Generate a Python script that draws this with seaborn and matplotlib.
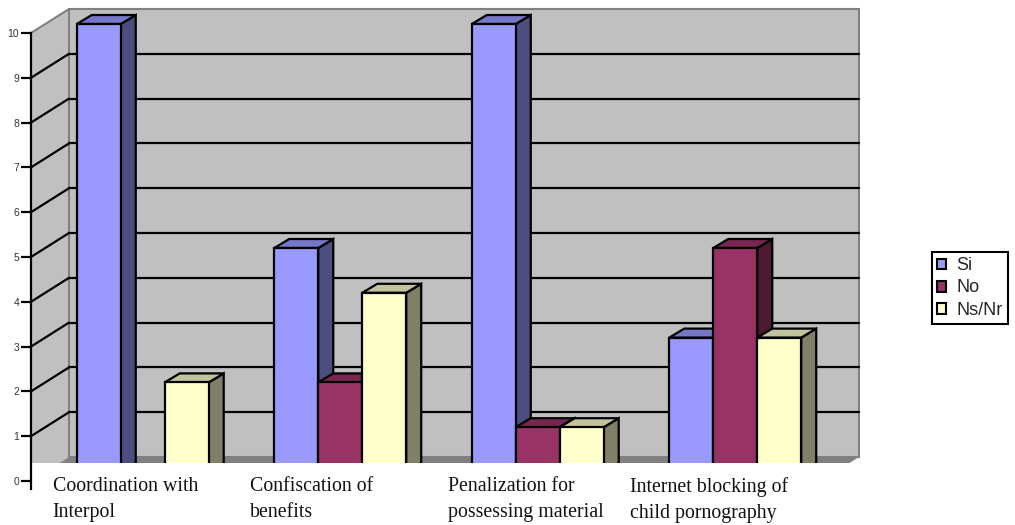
import numpy as np
import pandas as pd
import matplotlib
matplotlib.use("Agg")
import matplotlib.pyplot as plt
import seaborn as sns
from matplotlib.patches import Polygon, Rectangle, Patch
from matplotlib.lines import Line2D
from matplotlib.transforms import blended_transform_factory

# ---- data -------------------------------------------------------------
categories = [
    "Coordination with\nInterpol",
    "Confiscation of\nbenefits",
    "Penalization for\npossessing material",
    "Internet blocking of\nchild pornography",
]
responses = ["Si", "No", "Ns/Nr"]
si_counts = [10, 5, 10, 3]
no_counts = [0, 2, 1, 5]
nsnr_counts = [2, 4, 1, 3]
y_ticks = list(range(0, 11))

# ---- styling ----------------------------------------------------------
front_colors = {"Si": "#9999FF", "No": "#993366", "Ns/Nr": "#FFFFCC"}
side_colors = {"Si": "#4D4D80", "No": "#4D1A33", "Ns/Nr": "#808066"}
top_colors = {"Si": "#7777C8", "No": "#76264F", "Ns/Nr": "#C2C29C"}
WALL_COLOR = "#C0C0C0"
FLOOR_COLOR = "#808080"
EDGE_GREY = "#808080"
LW = 1.6

sns.set_theme(style="white")
plt.rcParams["font.family"] = ["Liberation Sans", "DejaVu Sans"]

W_PX, H_PX, DPI = 1015, 525, 100
fig = plt.figure(figsize=(W_PX / DPI, H_PX / DPI), dpi=DPI)
fig.patch.set_facecolor("white")

# front plane of the 3-D box, in pixels
ax_left, ax_bottom, ax_w, ax_h = 31, 36, 790, 456
ax = fig.add_axes([ax_left / W_PX, ax_bottom / H_PX, ax_w / W_PX, ax_h / H_PX])
ax.set_facecolor("none")

df = pd.DataFrame({
    "category": categories * len(responses),
    "response": np.repeat(responses, len(categories)),
    "count": si_counts + no_counts + nsnr_counts,
})

sns.barplot(
    data=df, x="category", y="count", hue="response",
    order=categories, hue_order=responses, palette=front_colors,
    width=0.668, gap=0, saturation=1, edgecolor="black", linewidth=LW,
    errorbar=None, legend=False, ax=ax,
)

x_lo, x_hi = -0.5, len(categories) - 0.5
y_lo, y_hi = -8 / 44.8, 10
ax.set_xlim(x_lo, x_hi)
ax.set_ylim(y_lo, y_hi)

px_x = ax_w / (x_hi - x_lo)
px_y = ax_h / (y_hi - y_lo)


def depth(px, py):
    """Pixel depth offset converted to data units."""
    return px / px_x, py / px_y


WALL = depth(38, 24)
BAR_F = depth(13, 9)
BAR_B = depth(28, 18)
ymax = y_ticks[-1]

# side wall, back wall, floor
ax.add_patch(Polygon([(x_lo, 0), (x_lo + WALL[0], WALL[1]),
                      (x_lo + WALL[0], ymax + WALL[1]), (x_lo, ymax)],
                     closed=True, facecolor=WALL_COLOR, edgecolor="none",
                     zorder=0, clip_on=False))
ax.add_patch(Rectangle((x_lo + WALL[0], WALL[1]), x_hi - x_lo, ymax,
                       facecolor=WALL_COLOR, edgecolor=EDGE_GREY, linewidth=1.5,
                       zorder=0.1, clip_on=False))
ax.add_patch(Polygon([(x_lo, 0), (x_hi, 0), (x_hi + WALL[0], WALL[1]),
                      (x_lo + WALL[0], WALL[1])],
                     closed=True, facecolor=FLOOR_COLOR, edgecolor="none",
                     zorder=0.2, clip_on=False))

# gridlines on the back and side walls
for v in y_ticks[1:-1]:
    ax.add_line(Line2D([x_lo + WALL[0], x_hi + WALL[0]], [v + WALL[1]] * 2,
                       color="black", linewidth=LW, zorder=0.5, clip_on=False))
    ax.add_line(Line2D([x_lo, x_lo + WALL[0]], [v, v + WALL[1]],
                       color="black", linewidth=LW, zorder=0.5, clip_on=False))
ax.add_line(Line2D([x_lo, x_lo + WALL[0]], [ymax, ymax + WALL[1]],
                   color=EDGE_GREY, linewidth=1.5, zorder=0.5, clip_on=False))

# extrude every bar into a box, left to right
bars = []
for resp, cont in zip(responses, ax.containers):
    for bar in cont:
        bars.append((bar.get_x(), bar, resp))
bars.sort(key=lambda t: t[0])

for k, (_, bar, resp) in enumerate(bars):
    z = 2 + 0.01 * k
    h = bar.get_height()
    if h <= 0:
        bar.set_visible(False)
        continue
    x0 = bar.get_x()
    x1 = x0 + bar.get_width()
    bar.set_x(x0 + BAR_F[0])
    bar.set_y(BAR_F[1])
    bar.set_zorder(z + 0.002)
    bar.set_clip_on(False)
    side = [(x1 + BAR_F[0], BAR_F[1]), (x1 + BAR_F[0], h + BAR_F[1]),
            (x1 + BAR_B[0], h + BAR_B[1]), (x1 + BAR_B[0], BAR_B[1])]
    top = [(x0 + BAR_F[0], h + BAR_F[1]), (x1 + BAR_F[0], h + BAR_F[1]),
           (x1 + BAR_B[0], h + BAR_B[1]), (x0 + BAR_B[0], h + BAR_B[1])]
    ax.add_patch(Polygon(side, closed=True, facecolor=side_colors[resp],
                         edgecolor="black", linewidth=LW, joinstyle="miter",
                         zorder=z, clip_on=False))
    ax.add_patch(Polygon(top, closed=True, facecolor=top_colors[resp],
                         edgecolor="black", linewidth=LW, joinstyle="miter",
                         zorder=z + 0.001, clip_on=False))

# white band under the floor holding the category labels
cover_top = depth(0, 18)[1]
ax.add_patch(Rectangle((x_lo, y_lo - 3), (x_hi - x_lo) + WALL[0] + 0.05,
                       cover_top - (y_lo - 3), facecolor="white",
                       edgecolor="none", zorder=10, clip_on=False))

# value axis
for name in ["top", "right", "bottom"]:
    ax.spines[name].set_visible(False)
ax.spines["left"].set_color("black")
ax.spines["left"].set_linewidth(LW)
ax.spines["left"].set_zorder(20)
ax.yaxis.set_zorder(20)
ax.set_yticks(y_ticks)
ax.set_yticklabels([str(t) for t in y_ticks])
ax.tick_params(axis="y", direction="out", length=7, width=LW, color="black",
               labelsize=7.5, labelcolor="#333333", pad=1.5, left=True)
ax.set_xticks([])
ax.set_xlabel("")
ax.set_ylabel("")

# category labels
label_offsets = [-0.39, -0.39, -0.39, -0.467]
lab_tr = blended_transform_factory(ax.transData, fig.transFigure)
for i, (cat, off) in enumerate(zip(categories, label_offsets)):
    ax.text(i + off, 1 - 477 / H_PX, cat, transform=lab_tr, ha="left", va="top",
            multialignment="left", fontsize=14.3, linespacing=1.5,
            family=["Liberation Serif", "DejaVu Serif"], color="#111111",
            zorder=30, clip_on=False)

# legend
handles = [Patch(facecolor=front_colors[r], edgecolor="black", linewidth=1.5)
           for r in responses]
leg = fig.legend(handles, responses, loc="upper left",
                 bbox_to_anchor=(932 / W_PX, 1 - 252 / H_PX),
                 frameon=True, fancybox=False, framealpha=1, borderaxespad=0,
                 fontsize=13, handlelength=0.5, handleheight=0.55,
                 handletextpad=0.55, labelspacing=0.28, borderpad=0.3)
leg.get_frame().set_edgecolor("black")
leg.get_frame().set_linewidth(1.5)

fig.savefig("out.png", dpi=DPI, facecolor="white")
